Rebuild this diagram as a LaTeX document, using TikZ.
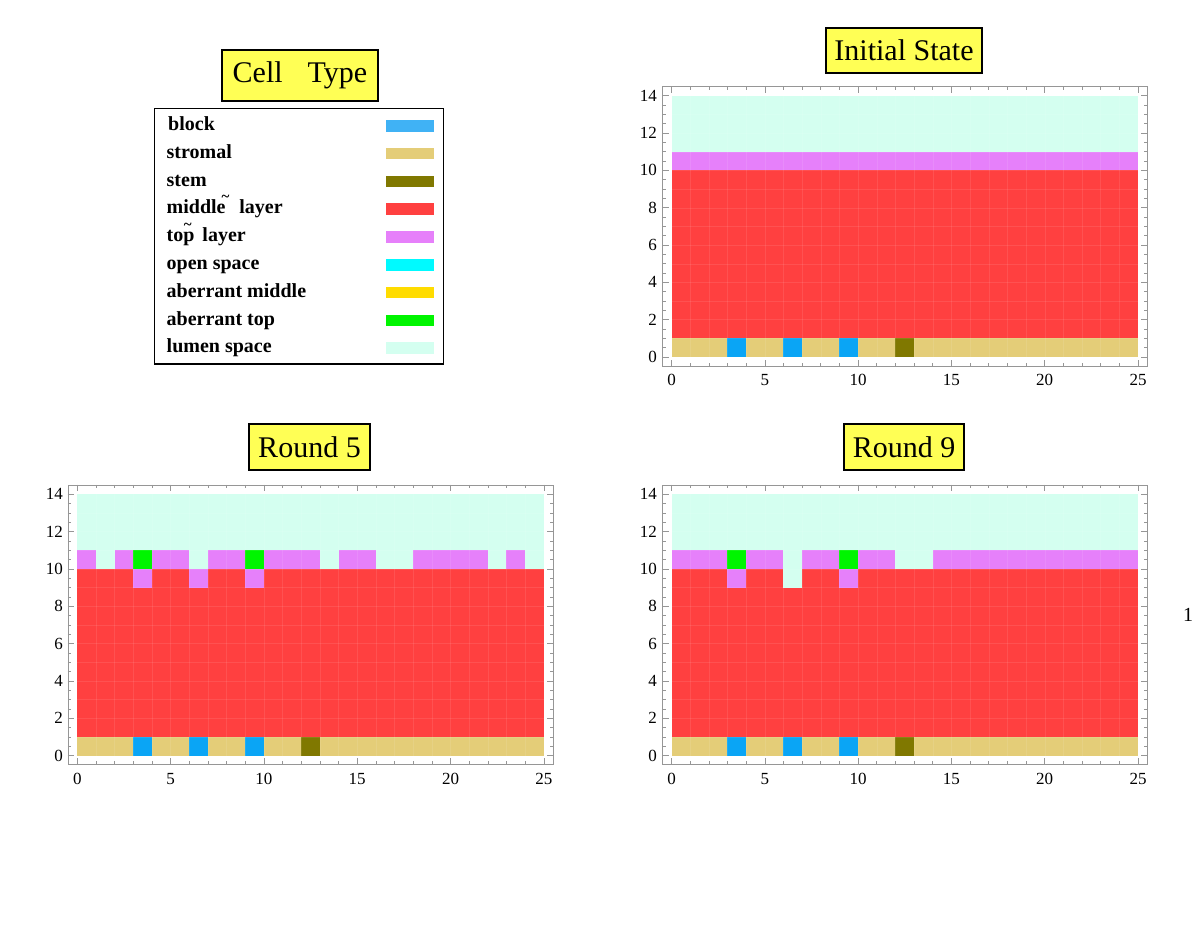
\documentclass[tikz,border=0pt]{standalone}
\usepackage{fontspec}
\setmainfont{Liberation Serif}
\definecolor{cblock}{RGB}{10,165,245}
\definecolor{cblockL}{RGB}{64,178,245}
\definecolor{cstrom}{RGB}{228,205,120}
\definecolor{cstem}{RGB}{128,120,0}
\definecolor{cmid}{RGB}{255,64,64}
\definecolor{ctop}{RGB}{230,128,250}
\definecolor{copen}{RGB}{0,250,255}
\definecolor{cabm}{RGB}{255,220,0}
\definecolor{cabt}{RGB}{0,245,0}
\definecolor{clumen}{RGB}{212,255,240}
\definecolor{ctitle}{RGB}{255,255,85}
\definecolor{cframe}{RGB}{150,150,150}
\tikzset{
  titlebox/.style={draw=black, line width=1.2pt, fill=ctitle, inner sep=0pt,
    font=\fontsize{30}{30}\selectfont, text=black},
  ticklab/.style={inner sep=0pt, font=\fontsize{17}{17}\selectfont},
  legtext/.style={anchor=base west, inner sep=0pt, font=\fontsize{20}{20}\selectfont\bfseries},
  swatch/.style={minimum width=48pt, minimum height=11.5pt, inner sep=0pt, anchor=west},
  framepen/.style={draw=cframe, line width=0.8pt},
  tickpen/.style={draw=cframe, line width=0.6pt},
}
\newcommand\cellfill[3]{\fill[#3] (#1,#2) rectangle ++(1,1);}
\newcommand\tildeup{\raisebox{12pt}[12pt][0pt]{\fontsize{15}{15}\selectfont\textasciitilde}}
\newcommand\baseplot{%
  \fill[clumen] (0,11) rectangle (25,14);
  \fill[cmid] (0,1) rectangle (25,10);
  \fill[cstrom] (0,0) rectangle (25,1);
  \cellfill{3}{0}{cblock}\cellfill{6}{0}{cblock}\cellfill{9}{0}{cblock}
  \cellfill{12}{0}{cstem}}
\newcommand\plotframe[1]{%
  \foreach \i in {1,...,24} {\draw[white, opacity=0.09, line width=0.4pt] (\i,0) -- (\i,14);}
  \foreach \j in {1,...,13} {\draw[white, opacity=0.09, line width=0.4pt] (0,\j) -- (25,\j);}
  \draw[framepen] (-0.5,-0.5) rectangle (25.5,14.5);
  \foreach \i in {0,...,25} {
    \draw[tickpen] (\i,-0.5) -- ++(0,0.18);
    \draw[tickpen] (\i,14.5) -- ++(0,-0.18);}
  \foreach \i in {0,5,...,25} {
    \draw[tickpen] (\i,-0.5) -- ++(0,0.34);
    \draw[tickpen] (\i,14.5) -- ++(0,-0.34);
    \node[ticklab, anchor=north] (#1x\i) at ([yshift=-8pt]\i,-0.5) {\i};}
  \foreach \j in {0,0.5,...,14} {
    \draw[tickpen] (-0.5,\j) -- ++(0.18,0);
    \draw[tickpen] (25.5,\j) -- ++(-0.18,0);}
  \foreach \j in {0,2,...,14} {
    \draw[tickpen] (-0.5,\j) -- ++(0.34,0);
    \draw[tickpen] (25.5,\j) -- ++(-0.34,0);
    \node[ticklab, anchor=east] (#1y\j) at ([xshift=-5pt]-0.5,\j) {\j};}
}
\begin{document}
\begin{tikzpicture}[x=1pt, y=-1pt]
\useasboundingbox (0,0) rectangle (1200,926);
\fill[white] (0,0) rectangle (1200,926);

% ---------- Legend ----------
\node[titlebox, minimum width=156pt, minimum height=51pt] (celltype) at (300,75.5) {Cell\hspace{25pt}Type};
\draw[line width=1.5pt] (154.7,108.3) rectangle (443.3,364);
\foreach \n/\c [count=\k from 0] in {block/cblockL, stromal/cstrom, stem/cstem, middle/cmid, top/ctop,
    open/copen, abm/cabm, abt/cabt, lumen/clumen} {
  \node[swatch, fill=\c] (sw\n) at (385.5,{125.8+27.8*\k}) {};
}
\node[legtext] (lblock) at (168,130.5) {block};
\node[legtext] (lstromal) at (166.5,158.3) {stromal};
\node[legtext] (lstem) at (166.5,186.1) {stem};
\node[legtext] (lmiddle) at (166.5,213.9) {middle\kern-4pt\tildeup\ \ layer};
\node[legtext] (ltop) at (166.5,241.7) {to\rlap{\kern0.5pt\tildeup}p\ \kern3pt layer};
\node[legtext] (lopen) at (166.5,269.5) {open space};
\node[legtext] (labm) at (166.5,297.3) {aberrant middle};
\node[legtext] (labt) at (166.5,325.1) {aberrant top};
\node[legtext] (llumen) at (166.5,352.9) {lumen space};

% ---------- Initial State ----------
\node[titlebox, minimum width=156pt, minimum height=45pt] (tinit) at (904,50.5) {Initial State};
\begin{scope}[shift={(671.5pt,-357pt)}, x=18.66pt, y=18.66pt]
  \baseplot
  \fill[ctop] (0,10) rectangle (25,11);
  \plotframe{a}
\end{scope}

% ---------- Round 5 ----------
\node[titlebox, minimum width=121pt, minimum height=46pt] (tr5) at (309.5,447) {Round 5};
\begin{scope}[shift={(77.3pt,-755.5pt)}, x=18.66pt, y=18.66pt]
  \baseplot
  \fill[clumen] (0,10) rectangle (25,11);
  \foreach \i in {0,2,4,5,7,8,10,11,12,14,15,18,19,20,21,23} {\cellfill{\i}{10}{ctop}}
  \cellfill{3}{10}{cabt}\cellfill{9}{10}{cabt}
  \cellfill{3}{9}{ctop}\cellfill{6}{9}{ctop}\cellfill{9}{9}{ctop}
  \plotframe{b}
\end{scope}

% ---------- Round 9 ----------
\node[titlebox, minimum width=120pt, minimum height=46pt] (tr9) at (904,447) {Round 9};
\begin{scope}[shift={(671.5pt,-755.5pt)}, x=18.66pt, y=18.66pt]
  \baseplot
  \fill[ctop] (0,10) rectangle (25,11);
  \cellfill{6}{10}{clumen}\cellfill{12}{10}{clumen}\cellfill{13}{10}{clumen}
  \cellfill{3}{10}{cabt}\cellfill{9}{10}{cabt}
  \cellfill{3}{9}{ctop}\cellfill{6}{9}{clumen}\cellfill{9}{9}{ctop}
  \plotframe{c}
\end{scope}

\node[inner sep=0pt, font=\fontsize{20}{20}\selectfont] (pagenum) at (1188,615) {1};
\end{tikzpicture}
\end{document}
